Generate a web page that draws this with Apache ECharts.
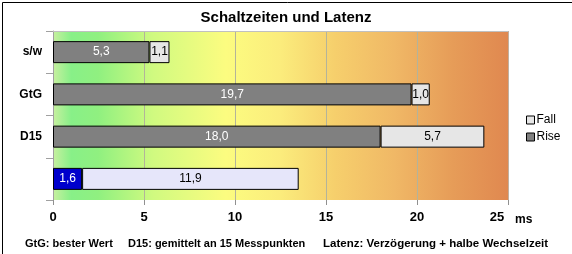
<!DOCTYPE html>
<html><head><meta charset="utf-8">
<script src="https://cdn.jsdelivr.net/npm/echarts@6/dist/echarts.min.js"></script>
<style>html,body{margin:0;padding:0;background:#fff}#c{width:572px;height:254px}</style>
</head><body><div id="c"></div>
<script>
const categories = ['s/w', 'GtG', 'D15', ''];
const riseValues = [5.3, 19.7, 18.0, null];
const fallValues = [1.1, 1.0, 5.7, null];
const delayValues = [null, null, null, 1.6];
const halfSwitchValues = [null, null, null, 11.9];
const xTicks = [0, 5, 10, 15, 20, 25];
const footerTexts = ['GtG: bester Wert', 'D15: gemittelt an 15 Messpunkten', 'Latenz: Verzögerung + halbe Wechselzeit'];

const FONT = '"Liberation Sans", Arial, sans-serif';
const fmt = p => (p.value == null ? '' : Number(p.value).toFixed(1).replace('.', ','));
const lbl = (color) => ({show: true, position: 'inside', formatter: fmt, color: color, fontFamily: FONT, fontSize: 12});
const lastTick = xTicks[xTicks.length - 1];

const chart = echarts.init(document.getElementById('c'), null, {renderer: 'canvas'});
chart.setOption({
  animation: false,
  title: {text: 'Schaltzeiten und Latenz', left: 'center', top: 5,
    textStyle: {fontFamily: FONT, fontSize: 15, fontWeight: 'bold', color: '#000'}},
  legend: {data: ['Fall', 'Rise'], orient: 'vertical', left: 521, top: 109, icon: 'rect',
    itemWidth: 8, itemHeight: 8, itemGap: 5,
    textStyle: {fontFamily: FONT, fontSize: 12, color: '#000', padding: [0,0,0,-3]},
    itemStyle: {borderColor: '#000', borderWidth: 1}},
  grid: {left: 53, right: 64, top: 31, bottom: 54, show: true, borderWidth: 0,
    backgroundColor: {type: 'linear', x: 0, y: 0, x2: 1, y2: 0, colorStops: [
      {offset: 0, color: '#c8f0a0'}, {offset: 0.04, color: '#88f088'}, {offset: 0.1, color: '#90f080'},
      {offset: 0.22, color: '#d0fa80'}, {offset: 0.38, color: '#fcfc80'}, {offset: 0.5, color: '#fbec7c'},
      {offset: 0.62, color: '#f6cf6c'}, {offset: 0.75, color: '#f0b866'}, {offset: 0.88, color: '#e69c58'},
      {offset: 1, color: '#e08850'}]}},
  xAxis: {type: 'value', min: xTicks[0], max: lastTick, interval: 5,
    name: 'ms', nameLocation: 'end', nameGap: 7,
    nameTextStyle: {fontFamily: FONT, fontSize: 12, fontWeight: 'bold', color: '#000', verticalAlign: 'top', padding: [14,0,0,0]},
    axisLine: {show: false},
    axisTick: {show: true, length: 5, lineStyle: {color: '#909090'}},
    axisLabel: {fontFamily: FONT, fontSize: 13, fontWeight: 'bold', color: '#000', margin: 11,
      formatter: v => (v === lastTick ? '{r|' + v + '}' : String(v)),
      rich: {r: {fontFamily: FONT, fontSize: 13, fontWeight: 'bold', color: '#000', padding: [0, 22, 0, 0]}}},
    splitLine: {show: true, lineStyle: {color: '#b4b49a', width: 1}}},
  yAxis: {type: 'category', data: categories, inverse: true,
    axisLine: {show: true, lineStyle: {color: '#a0a0a0'}},
    axisTick: {show: true, length: 7, inside: false, lineStyle: {color: '#a0a0a0'}},
    axisLabel: {fontFamily: FONT, fontSize: 12, fontWeight: 'bold', color: '#000', margin: 11}},
  series: [
    {name: 'Rise', type: 'bar', stack: 'a', data: riseValues, barWidth: 22,
      itemStyle: {color: '#808080', borderColor: '#000', borderWidth: 1}, label: lbl('#fff')},
    {name: 'Fall', type: 'bar', stack: 'a', data: fallValues, barWidth: 22,
      itemStyle: {color: '#e6e6e6', borderColor: '#000', borderWidth: 1}, label: lbl('#000')},
    {name: 'Delay', type: 'bar', stack: 'a', data: delayValues, barWidth: 22,
      itemStyle: {color: '#0000cc', borderColor: '#000', borderWidth: 1}, label: lbl('#fff')},
    {name: 'HalfSwitch', type: 'bar', stack: 'a', data: halfSwitchValues, barWidth: 22,
      itemStyle: {color: '#e6e6fa', borderColor: '#000', borderWidth: 1}, label: lbl('#000')}
  ],
  graphic: [
    {type: 'rect', left: 0, top: 0, z: 100, silent: true,
      shape: {x: 0.5, y: 0.5, width: 571, height: 253}, style: {fill: 'none', stroke: '#000', lineWidth: 1}},
    {type: 'line', z: 5, shape: {x1: 53, y1: 31.5, x2: 508.5, y2: 31.5}, style: {stroke: '#c0c0c0', lineWidth: 1}},
    {type: 'line', z: 5, shape: {x1: 508.5, y1: 31, x2: 508.5, y2: 200}, style: {stroke: '#c0b0a0', lineWidth: 1}},
    {type: 'text', left: 25, top: 238, style: {text: footerTexts[0], font: 'bold 11px ' + FONT, fill: '#000'}},
    {type: 'text', left: 128, top: 238, style: {text: footerTexts[1], font: 'bold 11px ' + FONT, fill: '#000'}},
    {type: 'text', left: 323, top: 238, style: {text: footerTexts[2], font: 'bold 11.5px ' + FONT, fill: '#000'}}
  ]
});
</script></body></html>
